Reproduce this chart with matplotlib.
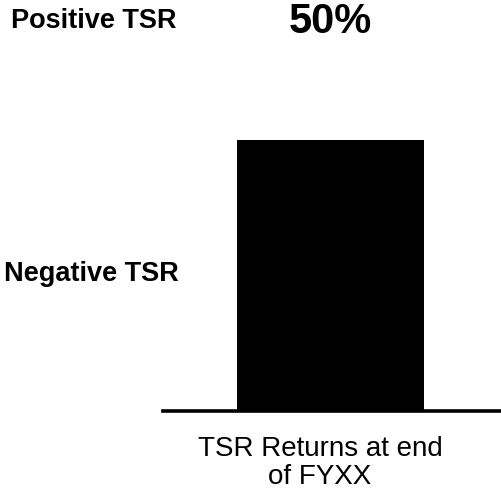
import matplotlib
matplotlib.use("Agg")
import matplotlib.pyplot as plt
import matplotlib.transforms as mtransforms

plt.rcParams['font.family'] = ['Liberation Sans', 'DejaVu Sans']

categories = ["TSR Returns at end\nof FYXX"]
tsr_values = [50]
side_labels = ["Positive TSR", "Negative TSR"]

W, H = 502, 496
fig = plt.figure(figsize=(W / 100, H / 100), dpi=100)
ax = fig.add_axes([163 / W, (H - 411) / H, 1 - 163 / W, 411 / H])

ax.bar([0], tsr_values, width=1.0, color="black")
ax.set_xlim(-0.896, 0.917)
ax.set_ylim(0, 75.8)
ax.axhline(0, color="black", lw=2.6, clip_on=False)
ax.axis("off")

# value shown above the chart, centred on the bar
trans = mtransforms.blended_transform_factory(ax.transData, fig.transFigure)
ax.text(0, 1 - 33 / H, f"{tsr_values[0]}%", transform=trans, ha="center",
        va="baseline", fontsize=30, fontweight="bold")

fig.text(94 / W, 1 - 28 / H, side_labels[0], ha="center", va="baseline",
         fontsize=19.5, fontweight="bold")
fig.text(91 / W, 1 - 281 / H, side_labels[1], ha="center", va="baseline",
         fontsize=19.5, fontweight="bold")

fig.text(320 / W, 1 - 463 / H, categories[0], ha="center", va="center",
         fontsize=20, linespacing=1.15)

fig.savefig("out.png", dpi=100)
